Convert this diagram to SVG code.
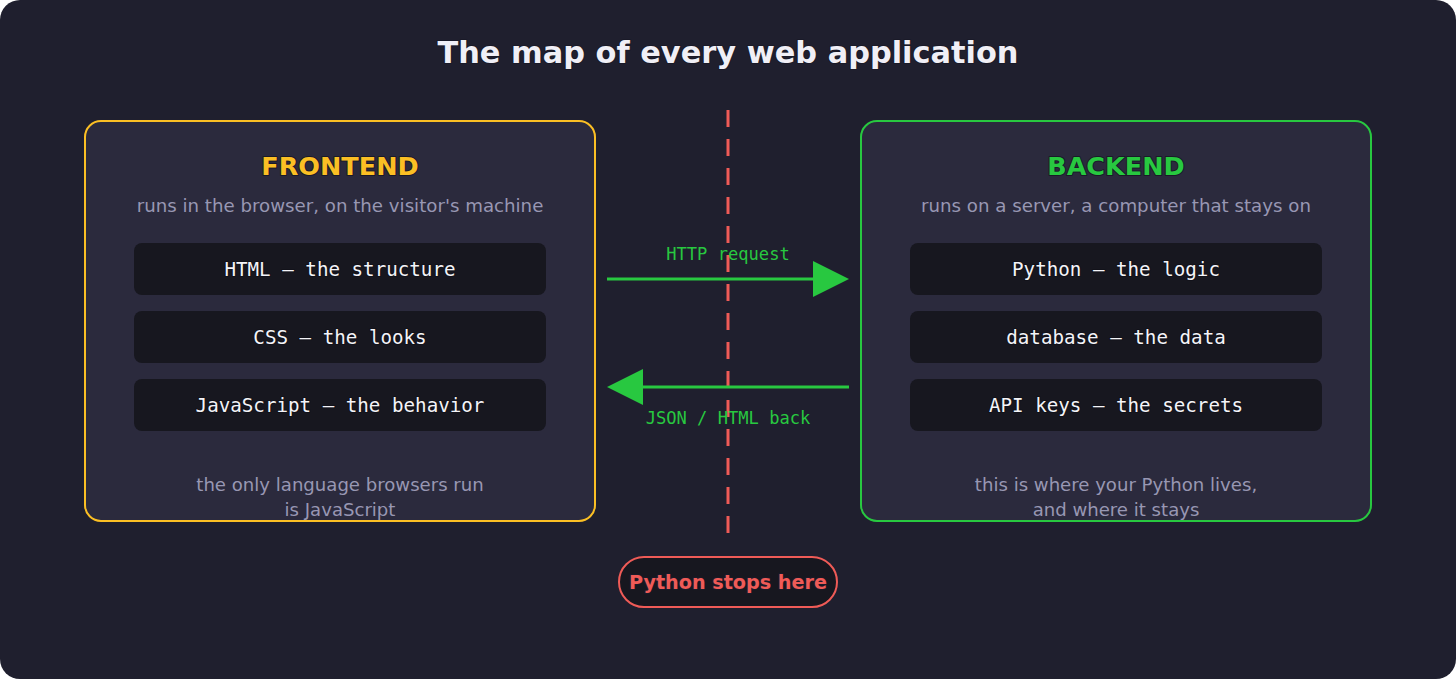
<svg xmlns="http://www.w3.org/2000/svg" width="1456" height="679" viewBox="0 0 1456 679">
<style>
.t{font-family:"DejaVu Sans","Liberation Sans",sans-serif;text-anchor:middle;paint-order:stroke;stroke:#1a1a28;stroke-width:2px;stroke-linejoin:round}
.m{font-family:"DejaVu Sans Mono","Liberation Mono",monospace;text-anchor:middle;paint-order:stroke;stroke:#12121a;stroke-width:2px;stroke-linejoin:round}
.card{fill:#2b2a3d;stroke-width:2}
.item{fill:#17171f}
.itxt{font-size:19.2px;fill:#f4f4f8}
.sub{font-size:18.2px;fill:#9897b3;stroke:none}
.cap{font-size:18.1px;fill:#9897b3;stroke:none}
.head{font-size:25.5px;font-weight:bold}
.lbl{font-size:17.1px;fill:#28c840;stroke:none}
</style>
<rect x="0" y="0" width="1456" height="679" fill="#ffffff"/>
<rect x="0" y="0" width="1456" height="679" rx="20" fill="#1f1f2e"/>
<text class="t" x="728" y="63" font-size="30.4" font-weight="bold" fill="#f0eff6">The map of every web application</text>

<g id="divider">
<line x1="728" y1="110" x2="728" y2="535" stroke="#ef5b57" stroke-width="3" stroke-dasharray="17 12"/>
</g>

<g id="frontend">
<rect class="card" x="85" y="121" width="510" height="400" rx="16" stroke="#fbbf24"/>
<text class="t head" x="340" y="175" fill="#fbbf24">FRONTEND</text>
<text class="t sub" x="340" y="212">runs in the browser, on the visitor's machine</text>
<rect class="item" x="134" y="243" width="412" height="52" rx="8"/>
<text class="m itxt" x="340" y="276">HTML — the structure</text>
<rect class="item" x="134" y="311" width="412" height="52" rx="8"/>
<text class="m itxt" x="340" y="344">CSS — the looks</text>
<rect class="item" x="134" y="379" width="412" height="52" rx="8"/>
<text class="m itxt" x="340" y="412">JavaScript — the behavior</text>
<text class="t cap" x="340" y="491">the only language browsers run</text>
<text class="t cap" x="340" y="516">is JavaScript</text>
</g>

<g id="backend">
<rect class="card" x="861" y="121" width="510" height="400" rx="16" stroke="#28c840"/>
<text class="t head" x="1116" y="175" fill="#28c840">BACKEND</text>
<text class="t sub" x="1116" y="212">runs on a server, a computer that stays on</text>
<rect class="item" x="910" y="243" width="412" height="52" rx="8"/>
<text class="m itxt" x="1116" y="276">Python — the logic</text>
<rect class="item" x="910" y="311" width="412" height="52" rx="8"/>
<text class="m itxt" x="1116" y="344">database — the data</text>
<rect class="item" x="910" y="379" width="412" height="52" rx="8"/>
<text class="m itxt" x="1116" y="412">API keys — the secrets</text>
<text class="t cap" x="1116" y="491">this is where your Python lives,</text>
<text class="t cap" x="1116" y="516">and where it stays</text>
</g>

<g id="connectors">
<line x1="607" y1="279" x2="813" y2="279" stroke="#28c840" stroke-width="3"/>
<path d="M813,261 L849,279 L813,297 Z" fill="#28c840"/>
<text class="m lbl" x="728" y="260">HTTP request</text>
<line x1="849" y1="387" x2="643" y2="387" stroke="#28c840" stroke-width="3"/>
<path d="M643,369 L607,387 L643,405 Z" fill="#28c840"/>
<text class="m lbl" x="728" y="424">JSON / HTML back</text>
</g>

<g id="stop">
<rect x="619" y="557" width="218" height="50" rx="25" fill="#17171f" stroke="#ef5b57" stroke-width="2"/>
<text class="t" x="728" y="589" font-size="19.2" font-weight="bold" fill="#ef5b57">Python stops here</text>
</g>
</svg>
